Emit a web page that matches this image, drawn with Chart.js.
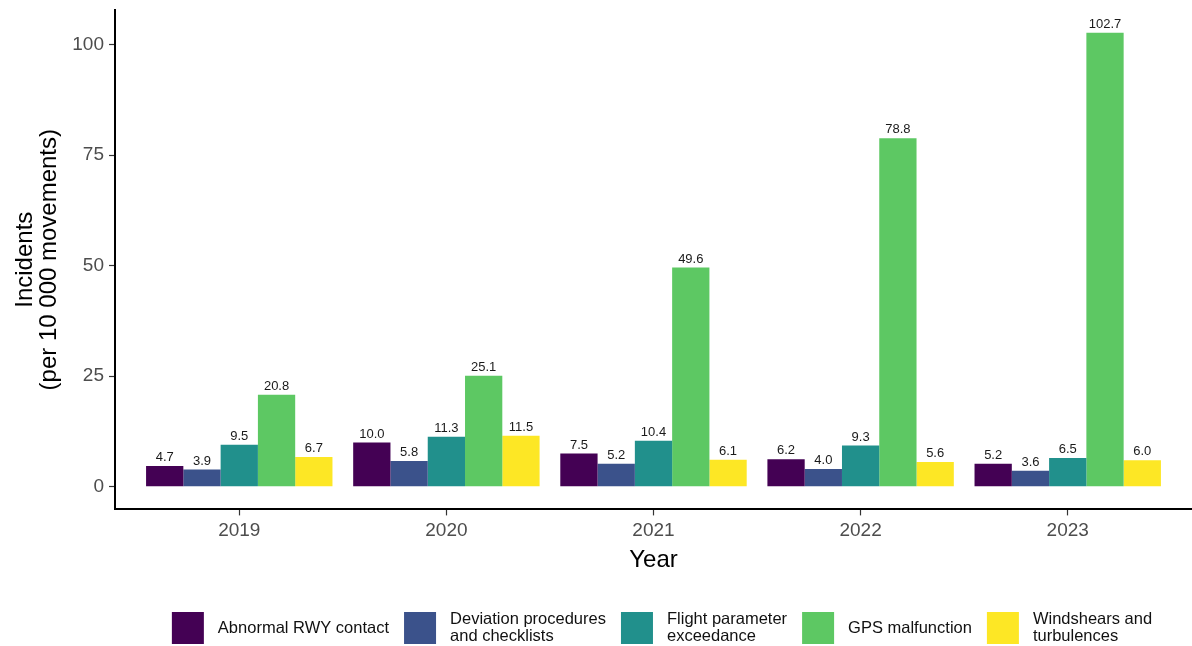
<!DOCTYPE html>
<html>
<head>
<meta charset="utf-8">
<title>Incidents per 10 000 movements</title>
<script src="https://cdn.jsdelivr.net/npm/chart.js@4/dist/chart.umd.min.js"></script>
<style>
    html, body { margin: 0; padding: 0; background: #ffffff; }
    #wrap { width: 1192px; height: 646px; }
</style>
</head>
<body>
<div id="wrap"><canvas id="incidentsChart" width="1192" height="646"></canvas></div>
<script>
// Data
const years = [2019, 2020, 2021, 2022, 2023];
const seriesNames = [
    'Abnormal RWY contact',
    'Deviation procedures\nand checklists',
    'Flight parameter\nexceedance',
    'GPS malfunction',
    'Windshears and\nturbulences'
];
const abnormalRwy = [4.7, 10.0, 7.5, 6.2, 5.2];
const deviationProc = [3.9, 5.8, 5.2, 4.0, 3.6];
const flightParam = [9.5, 11.3, 10.4, 9.3, 6.5];
const gpsMalfunction = [20.8, 25.1, 49.6, 78.8, 102.7];
const windshears = [6.7, 11.5, 6.1, 5.6, 6.0];
const yTicks = [0, 25, 50, 75, 100];

// viridis palette, 5 steps
const colors = ['#440154', '#3B528B', '#21908C', '#5DC863', '#FDE725'];
const FONT = '"Liberation Sans", Arial, sans-serif';

const allSeries = [abnormalRwy, deviationProc, flightParam, gpsMalfunction, windshears];

const datasets = allSeries.map(function(values, i) {
    return {
        label: seriesNames[i],
        data: values.map(function(v, j) { return { x: years[j], y: v }; }),
        backgroundColor: colors[i],
        borderWidth: 0,
        categoryPercentage: 0.9,
        barPercentage: 1.0
    };
});

/**
 * Value labels above each bar
 */
const valueLabels = {
    id: 'valueLabels',
    afterDatasetsDraw(chart) {
        const ctx = chart.ctx;
        ctx.save();
        ctx.font = '13px ' + FONT;
        ctx.fillStyle = '#1a1a1a';
        ctx.textAlign = 'center';
        ctx.textBaseline = 'bottom';
        chart.data.datasets.forEach(function(ds, i) {
            chart.getDatasetMeta(i).data.forEach(function(bar, j) {
                ctx.fillText(ds.data[j].y.toFixed(1), bar.x, bar.y - 2);
            });
        });
        ctx.restore();
    }
};

/**
 * ggplot-like bottom legend with two-line labels
 */
const bottomLegend = {
    id: 'bottomLegend',
    afterDraw(chart) {
        const ctx = chart.ctx;
        const box = 32, gapText = 14, gapItem = 15, lineH = 17;
        const top = 612;
        ctx.save();
        ctx.font = '16.5px ' + FONT;
        const items = chart.data.datasets.map(function(ds) {
            const lines = ds.label.split('\n');
            const w = Math.max.apply(null, lines.map(function(l) { return ctx.measureText(l).width; }));
            return { lines: lines, width: w, color: ds.backgroundColor };
        });
        let total = 0;
        items.forEach(function(it, i) {
            total += box + gapText + it.width + (i < items.length - 1 ? gapItem : 0);
        });
        let x = 662 - total / 2;
        ctx.textBaseline = 'middle';
        ctx.textAlign = 'left';
        items.forEach(function(it) {
            ctx.fillStyle = it.color;
            ctx.fillRect(x, top, box, box);
            ctx.fillStyle = '#111111';
            const cy = top + box / 2 - (it.lines.length - 1) * lineH / 2;
            it.lines.forEach(function(l, k) {
                ctx.fillText(l, x + box + gapText, cy + k * lineH);
            });
            x += box + gapText + it.width + gapItem;
        });
        ctx.restore();
    }
};

new Chart(document.getElementById('incidentsChart').getContext('2d'), {
    type: 'bar',
    data: { datasets: datasets },
    options: {
        responsive: false,
        animation: false,
        devicePixelRatio: 1,
        layout: {
            padding: { top: 10, right: 0, bottom: 71, left: 0 }
        },
        plugins: {
            legend: { display: false },
            tooltip: { enabled: false }
        },
        scales: {
            x: {
                type: 'linear',
                min: years[0] - 0.6,
                max: years[years.length - 1] + 0.6,
                offset: false,
                afterBuildTicks: function(scale) {
                    scale.ticks = years.map(function(v) { return { value: v }; });
                },
                ticks: {
                    autoSkip: false,
                    maxRotation: 0,
                    padding: 4,
                    color: '#4d4d4d',
                    font: { family: FONT, size: 19 },
                    callback: function(v) { return String(v); }
                },
                grid: {
                    display: true,
                    offset: false,
                    drawOnChartArea: false,
                    drawTicks: true,
                    tickLength: 6,
                    tickWidth: 1.2,
                    tickColor: '#333333'
                },
                border: { display: true, color: '#000000', width: 2 },
                title: {
                    display: true,
                    text: 'Year',
                    color: '#000000',
                    font: { family: FONT, size: 24 },
                    padding: { top: 0, bottom: 0 }
                }
            },
            y: {
                min: -5.135,
                max: 107.835,
                afterBuildTicks: function(scale) {
                    scale.ticks = yTicks.map(function(v) { return { value: v }; });
                },
                afterFit: function(scale) {
                    scale.width = 115;
                    scale.paddingTop = 0;
                    scale.paddingBottom = 0;
                },
                ticks: {
                    padding: 5,
                    color: '#4d4d4d',
                    font: { family: FONT, size: 19 }
                },
                grid: {
                    display: true,
                    drawOnChartArea: false,
                    drawTicks: true,
                    tickLength: 6,
                    tickWidth: 1.2,
                    tickColor: '#333333'
                },
                border: { display: true, color: '#000000', width: 2 },
                title: {
                    display: true,
                    text: ['Incidents', '(per 10 000 movements)'],
                    color: '#000000',
                    font: { family: FONT, size: 24, lineHeight: 1.0 },
                    padding: { top: 13, bottom: 0 }
                }
            }
        }
    },
    plugins: [valueLabels, bottomLegend]
});
</script>
</body>
</html>
